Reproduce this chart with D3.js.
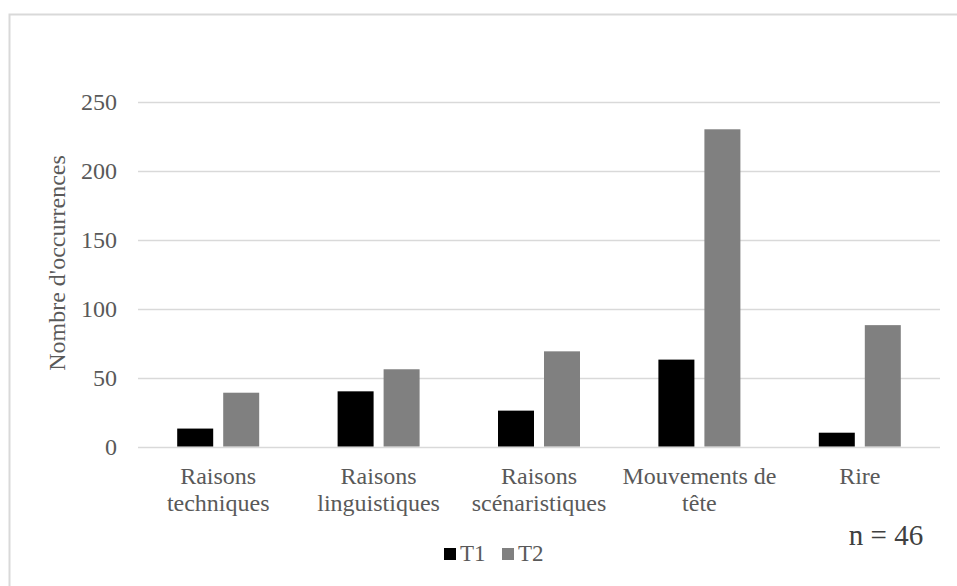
<!DOCTYPE html>
<html>

<head>
	<meta charset="utf-8">
	<style type="text/css">
		body {
			margin: 0;
			background-color: white;
		}

		svg text {
			font-family: "Liberation Serif", "Times New Roman", serif;
		}
	</style>
	<title>Nombre d'occurrences</title>
</head>

<body>
	<div id="chart"></div>
	<script src="https://cdn.jsdelivr.net/npm/d3@7"></script>
	<script>
		// Data
		var categories = [["Raisons", "techniques"], ["Raisons", "linguistiques"], ["Raisons", "scénaristiques"], ["Mouvements de", "tête"], ["Rire"]];
		var seriesNames = ["T1", "T2"];
		var t1Values = [13, 40, 26, 63, 10];
		var t2Values = [39, 56, 69, 230, 88];
		var yTicks = [0, 50, 100, 150, 200, 250];

		const width = 957,
			height = 586,
			colors = ["#000000", "#808080"];

		const margin = { left: 138, right: 17, top: 102, bottom: 140 };

		const svg = d3.select("#chart").append("svg")
			.attr("width", width)
			.attr("height", height);

		// Outer chart frame (runs off the right and bottom edges)
		svg.append("rect")
			.attr("x", 9.5)
			.attr("y", 14.5)
			.attr("width", width + 10)
			.attr("height", height + 10)
			.style("fill", "none")
			.style("stroke", "#d9d9d9")
			.style("stroke-width", 2);

		var x0 = d3.scaleBand()
			.domain(d3.range(categories.length))
			.range([margin.left, width - margin.right]);

		var y = d3.scaleLinear()
			.domain([0, 250])
			.range([446.5, 101.7]);

		// Series inside each category
		var x1 = d3.scaleBand()
			.domain(seriesNames)
			.range([-41, 41])
			.paddingInner(10 / 46);

		// Gridlines
		svg.append("g")
			.selectAll("line")
			.data(yTicks)
			.enter().append("line")
			.attr("x1", margin.left)
			.attr("x2", width - margin.right)
			.attr("y1", function(d) { return Math.round(y(d)) + 0.5; })
			.attr("y2", function(d) { return Math.round(y(d)) + 0.5; })
			.style("stroke", "#d9d9d9")
			.style("stroke-width", 1.5);

		// Y tick labels
		svg.append("g")
			.selectAll("text")
			.data(yTicks)
			.enter().append("text")
			.attr("x", 117)
			.attr("y", function(d) { return y(d) + 8; })
			.attr("text-anchor", "end")
			.style("font-size", "24px")
			.style("fill", "#595959")
			.text(function(d) { return d; });

		// Bars
		var series = [t1Values, t2Values];
		series.forEach(function(vals, si) {
			svg.append("g")
				.selectAll("rect")
				.data(vals)
				.enter().append("rect")
				.attr("x", function(d, i) { return x0(i) + x0.bandwidth() / 2 + x1(seriesNames[si]); })
				.attr("y", function(d) { return y(d); })
				.attr("width", x1.bandwidth())
				.attr("height", function(d) { return y(0) - y(d); })
				.style("fill", colors[si]);
		});

		// Category labels (two lines)
		var catLabels = svg.append("g")
			.selectAll("text")
			.data(categories)
			.enter().append("text")
			.attr("text-anchor", "middle")
			.style("font-size", "24px")
			.style("fill", "#595959");

		catLabels.each(function(lines, i) {
			var t = d3.select(this);
			lines.forEach(function(line, j) {
				t.append("tspan")
					.attr("x", x0(i) + x0.bandwidth() / 2)
					.attr("y", 484 + j * 26.7)
					.text(line);
			});
		});

		// Axis title
		svg.append("text")
			.attr("transform", "translate(65," + 263 + ") rotate(-90)")
			.attr("text-anchor", "middle")
			.style("font-size", "24px")
			.style("fill", "#595959")
			.text("Nombre d'occurrences");

		// Legend
		var legendX = [444, 502];
		var legend = svg.append("g")
			.selectAll("g")
			.data(seriesNames)
			.enter().append("g")
			.attr("transform", function(d, i) { return "translate(" + legendX[i] + ",548)"; });

		legend.append("rect")
			.attr("width", 12)
			.attr("height", 12)
			.style("fill", function(d, i) { return colors[i]; });

		legend.append("text")
			.attr("x", 16)
			.attr("y", 13)
			.style("font-size", "23px")
			.style("fill", "#595959")
			.text(function(d) { return d; });

		// Sample size note
		svg.append("text")
			.attr("x", 886)
			.attr("y", 545)
			.attr("text-anchor", "middle")
			.style("font-size", "29px")
			.style("fill", "#404040")
			.text("n = 46");
	</script>
</body>

</html>
